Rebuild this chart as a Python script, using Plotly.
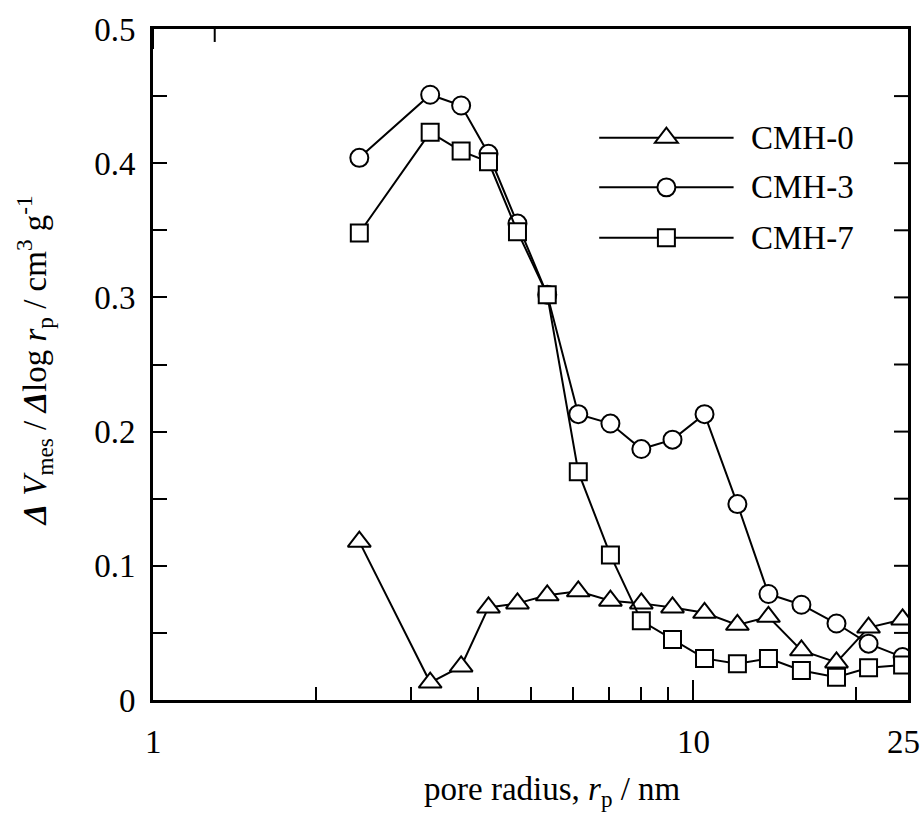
import math
import plotly.graph_objects as go

# Pore radius (nm) of each measured point
pore_radius = [2.41, 3.26, 3.72, 4.18, 4.73, 5.37, 6.13, 7.03, 8.02, 9.16,
               10.5, 12.08, 13.79, 15.87, 18.43, 21.13, 24.43]

# dV_mes / dlog r_p (cm3 g-1) for each sample
cmh0 = [0.118, 0.013, 0.025, 0.069, 0.072, 0.078, 0.081, 0.074, 0.072, 0.069,
        0.065, 0.056, 0.062, 0.037, 0.028, 0.054, 0.060]
cmh3 = [0.404, 0.451, 0.443, 0.407, 0.355, 0.302, 0.213, 0.206, 0.187, 0.194,
        0.213, 0.146, 0.079, 0.071, 0.057, 0.042, 0.032]
cmh7 = [0.348, 0.423, 0.409, 0.401, 0.349, 0.302, 0.170, 0.108, 0.059, 0.045,
        0.031, 0.027, 0.031, 0.022, 0.017, 0.024, 0.026]

series_names = ["CMH-0", "CMH-3", "CMH-7"]
series_values = [cmh0, cmh3, cmh7]
series_symbols = ["triangle-up", "circle", "square"]
series_sizes = [20, 18, 17]

x_label_ticks = [1, 10, 25]
x_major_ticks = [1, 10]
x_minor_ticks = [2, 3, 4, 5, 6, 7, 8, 9, 20]
y_major_ticks = [0, 0.1, 0.2, 0.3, 0.4, 0.5]
y_tick_labels = ["0", "0.1", "0.2", "0.3", "0.4", "0.5"]
y_minor_ticks = [0.05, 0.15, 0.25, 0.35, 0.45]

X_MAX = 25
FONT = "Liberation Serif"
FS = 33

W, H = 923, 814
ML, MR, MT, MB = 153, 14, 27, 114
PW, PH = W - ML - MR, H - MT - MB
px_x, px_y = 1.0 / PW, 1.0 / PH

fig = go.Figure()

for name, vals, sym, sz in zip(series_names, series_values, series_symbols, series_sizes):
    fig.add_trace(go.Scatter(
        x=pore_radius, y=vals, name=name, mode="lines+markers",
        line=dict(color="black", width=2),
        marker=dict(symbol=sym, size=sz, color="white",
                    line=dict(color="black", width=2)),
        showlegend=False,
    ))

shapes = []
annotations = []
edge = dict(color="black", width=2)

# Hand-drawn legend (paper coordinates, symbol sizes in pixels)
legend_rows = [0.838, 0.764, 0.689]
line_x0, line_x1, mark_x, text_x = 0.591, 0.769, 0.680, 0.790
for name, sym, ry in zip(series_names, series_symbols, legend_rows):
    shapes.append(dict(type="line", xref="paper", yref="paper", x0=line_x0,
                       x1=line_x1, y0=ry, y1=ry, line=edge))
    if sym == "circle":
        r = 9
        shapes.append(dict(type="circle", xref="paper", yref="paper",
                           x0=mark_x - r * px_x, x1=mark_x + r * px_x,
                           y0=ry - r * px_y, y1=ry + r * px_y,
                           fillcolor="white", line=edge))
    elif sym == "square":
        r = 8.5
        shapes.append(dict(type="rect", xref="paper", yref="paper",
                           x0=mark_x - r * px_x, x1=mark_x + r * px_x,
                           y0=ry - r * px_y, y1=ry + r * px_y,
                           fillcolor="white", line=edge))
    else:
        hw, up, dn = 11.5, 10, 5
        path = (f"M {mark_x - hw * px_x:.5f},{ry - dn * px_y:.5f} "
                f"L {mark_x + hw * px_x:.5f},{ry - dn * px_y:.5f} "
                f"L {mark_x:.5f},{ry + up * px_y:.5f} Z")
        shapes.append(dict(type="path", xref="paper", yref="paper", path=path,
                           fillcolor="white", line=edge))
    annotations.append(dict(x=text_x, y=ry, xref="paper", yref="paper", text=name,
                            showarrow=False, xanchor="left", yanchor="middle",
                            font=dict(family=FONT, size=FS, color="black")))

# Inward ticks along the top and right frame edges (log axis -> log10 positions)
for v in x_minor_ticks + [10]:
    tl = 20 if v == 10 else 13
    lv = math.log10(v)
    shapes.append(dict(type="line", xref="x", yref="paper",
                       x0=lv, x1=lv, y0=1, y1=1 - tl * px_y, line=edge))
for v in y_major_ticks[1:-1] + y_minor_ticks:
    shapes.append(dict(type="line", xref="paper", yref="y",
                       x0=1, x1=1 - 14 * px_x, y0=v, y1=v, line=edge))

# x tick labels, set a little below the frame
for v in x_label_ticks:
    annotations.append(dict(x=math.log10(v), y=0, xref="x", yref="paper", text=str(v),
                            showarrow=False, xanchor="center", yanchor="top",
                            xshift=-5 if v == X_MAX else 0, yshift=-22,
                            font=dict(family=FONT, size=FS)))

# Axis titles
annotations.append(dict(x=0.529, y=-0.137, xref="paper", yref="paper",
                        text="pore radius, <i>r</i><sub>p</sub> / nm",
                        showarrow=False, xanchor="center", yanchor="middle",
                        font=dict(family=FONT, size=FS)))
annotations.append(dict(x=-0.157, y=0.505, xref="paper", yref="paper", textangle=-90,
                        text="<b><i>Δ</i></b> <i>V</i><sub>mes</sub> / <b><i>Δ</i></b>log "
                             "<i>r</i><sub>p</sub> / cm<sup>3</sup> g<sup>-1</sup>",
                        showarrow=False, xanchor="center", yanchor="middle",
                        font=dict(family=FONT, size=FS)))

xr = [0, math.log10(X_MAX)]
axis_common = dict(showgrid=False, zeroline=False, ticks="inside", tickwidth=2,
                   tickcolor="black", showline=True, linewidth=2.5,
                   linecolor="black", mirror=True)

fig.update_layout(
    width=W, height=H,
    margin=dict(l=ML, r=MR, t=MT, b=MB),
    paper_bgcolor="white", plot_bgcolor="white",
    font=dict(family=FONT, size=FS, color="black"),
    xaxis=dict(type="log", range=xr, tickvals=x_major_ticks, ticklen=20,
               showticklabels=False,
               minor=dict(tickvals=x_minor_ticks, ticklen=13, tickwidth=2,
                          ticks="inside", tickcolor="black", showgrid=False),
               **axis_common),
    yaxis=dict(range=[0, 0.5], tickvals=y_major_ticks,
               ticktext=[t + "\u00a0" for t in y_tick_labels], ticklen=14,
               minor=dict(tickvals=y_minor_ticks, ticklen=14, tickwidth=2,
                          ticks="inside", tickcolor="black", showgrid=False),
               **axis_common),
    shapes=shapes,
    annotations=annotations,
)

fig.write_html("out.html")
